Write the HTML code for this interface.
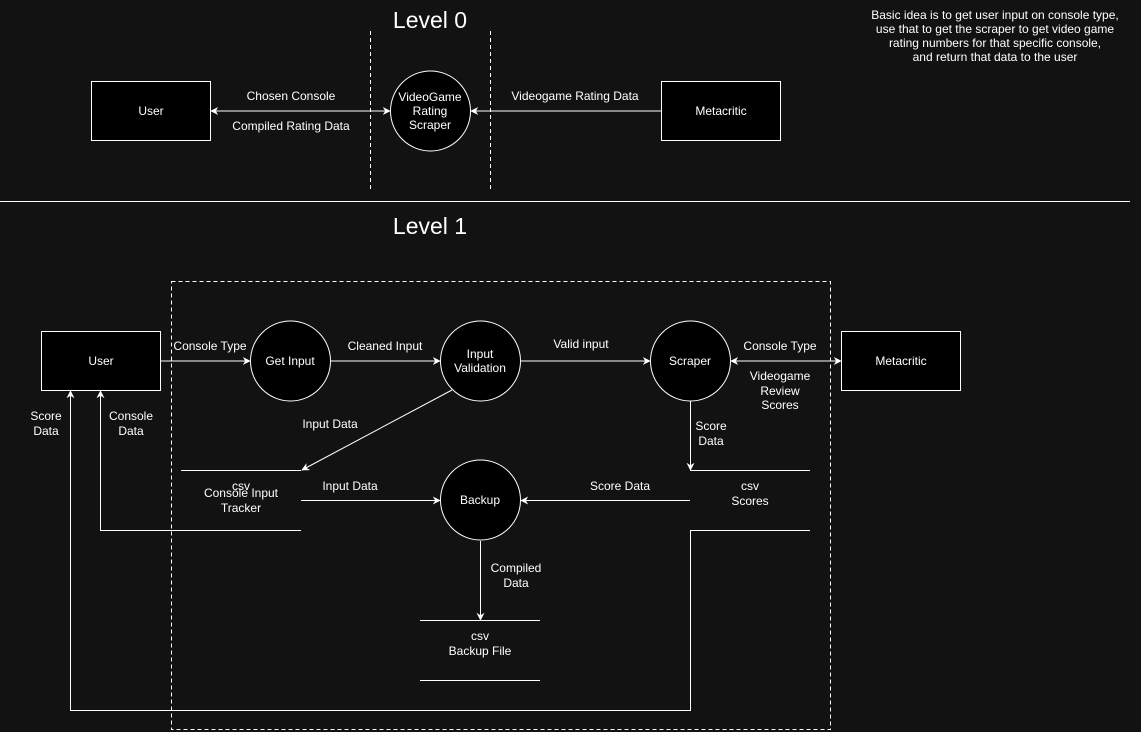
<!DOCTYPE html>
<html><head><style>
html,body{margin:0;padding:0;background:#121212;}
svg{display:block;}
text{font-family:"Liberation Sans",Arial,sans-serif;fill:#fff;font-size:12px;text-anchor:middle;}
</style></head><body>
<svg width="1141" height="732" viewBox="0 0 1141 732" xmlns="http://www.w3.org/2000/svg">
<defs>
<marker id="a" viewBox="0 0 10 10" refX="9" refY="5" markerWidth="8" markerHeight="8" orient="auto-start-reverse" markerUnits="userSpaceOnUse">
<path d="M0,0 L10,5 L0,10 L3,5 Z" fill="#fff"/>
</marker>
</defs>
<rect width="1141" height="732" fill="#121212"/>
<g stroke="#fff" fill="none" stroke-width="1">
<line x1="370.5" y1="31" x2="370.5" y2="190" stroke-dasharray="4 3"/>
<line x1="490.5" y1="31" x2="490.5" y2="190" stroke-dasharray="4 3"/>
<rect x="91.5" y="81.5" width="119" height="59" fill="#000"/>
<rect x="661.5" y="81.5" width="119" height="59" fill="#000"/>
<circle cx="430.5" cy="111" r="40" fill="#000"/>
<line x1="211" y1="111" x2="390" y2="111" marker-start="url(#a)" marker-end="url(#a)"/>
<line x1="661" y1="111" x2="471" y2="111" marker-end="url(#a)"/>
<line x1="0" y1="201.5" x2="1130" y2="201.5"/>
<rect x="171.5" y="281.5" width="659" height="448" stroke-dasharray="4 3"/>
<rect x="41.5" y="331.5" width="119" height="59" fill="#000"/>
<rect x="841.5" y="331.5" width="119" height="59" fill="#000"/>
<circle cx="290.5" cy="361" r="40" fill="#000"/>
<circle cx="480.5" cy="361" r="40" fill="#000"/>
<circle cx="690.5" cy="361" r="40" fill="#000"/>
<circle cx="480.5" cy="500" r="40" fill="#000"/>
<line x1="161" y1="361" x2="250" y2="361" marker-end="url(#a)"/>
<line x1="331" y1="361" x2="440" y2="361" marker-end="url(#a)"/>
<line x1="521" y1="361" x2="650" y2="361" marker-end="url(#a)"/>
<line x1="731" y1="361" x2="841" y2="361" marker-start="url(#a)" marker-end="url(#a)"/>
<line x1="452" y1="390" x2="302" y2="470" marker-end="url(#a)"/>
<line x1="181" y1="470.5" x2="301" y2="470.5"/>
<polyline points="301,530.5 100.5,530.5 100.5,391" marker-end="url(#a)"/>
<line x1="301" y1="500.5" x2="440" y2="500.5" marker-end="url(#a)"/>
<line x1="690.5" y1="401" x2="690.5" y2="470" marker-end="url(#a)"/>
<line x1="690" y1="470.5" x2="810" y2="470.5"/>
<line x1="690" y1="500.5" x2="521" y2="500.5" marker-end="url(#a)"/>
<polyline points="810,530.5 690.5,530.5 690.5,710.5 70.5,710.5 70.5,391" marker-end="url(#a)"/>
<line x1="480.5" y1="541" x2="480.5" y2="620" marker-end="url(#a)"/>
<line x1="420" y1="620.5" x2="540" y2="620.5"/>
<line x1="420" y1="680.5" x2="540" y2="680.5"/>
</g>
<text x="430" y="28" style="font-size:23px">Level 0</text>
<text x="430" y="234" style="font-size:23px">Level 1</text>
<text x="995" y="19">Basic idea is to get user input on console type,</text>
<text x="995" y="33">use that to get the scraper to get video game</text>
<text x="995" y="47">rating numbers for that specific console,</text>
<text x="995" y="61">and return that data to the user</text>
<text x="151" y="115">User</text>
<text x="721" y="115">Metacritic</text>
<text x="430" y="101">VideoGame</text>
<text x="430" y="115">Rating</text>
<text x="430" y="129">Scraper</text>
<text x="291" y="100">Chosen Console</text>
<text x="291" y="130">Compiled Rating Data</text>
<text x="575" y="100">Videogame Rating Data</text>
<text x="101" y="365">User</text>
<text x="901" y="365">Metacritic</text>
<text x="290" y="365">Get Input</text>
<text x="480" y="358">Input</text>
<text x="480" y="372">Validation</text>
<text x="690" y="365">Scraper</text>
<text x="480" y="504">Backup</text>
<text x="210" y="350">Console Type</text>
<text x="385" y="350">Cleaned Input</text>
<text x="581" y="348">Valid input</text>
<text x="780" y="350">Console Type</text>
<text x="780" y="380">Videogame</text>
<text x="780" y="395">Review</text>
<text x="780" y="409">Scores</text>
<text x="330" y="428">Input Data</text>
<text x="241" y="490">csv</text>
<text x="241" y="497">Console Input</text>
<text x="241" y="512">Tracker</text>
<text x="350" y="490">Input Data</text>
<text x="711" y="430">Score</text>
<text x="711" y="445">Data</text>
<text x="750" y="490">csv</text>
<text x="750" y="505">Scores</text>
<text x="620" y="490">Score Data</text>
<text x="46" y="420">Score</text>
<text x="46" y="435">Data</text>
<text x="131" y="420">Console</text>
<text x="131" y="435">Data</text>
<text x="516" y="572">Compiled</text>
<text x="516" y="587">Data</text>
<text x="480" y="640">csv</text>
<text x="480" y="655">Backup File</text>
</svg>
</body></html>
